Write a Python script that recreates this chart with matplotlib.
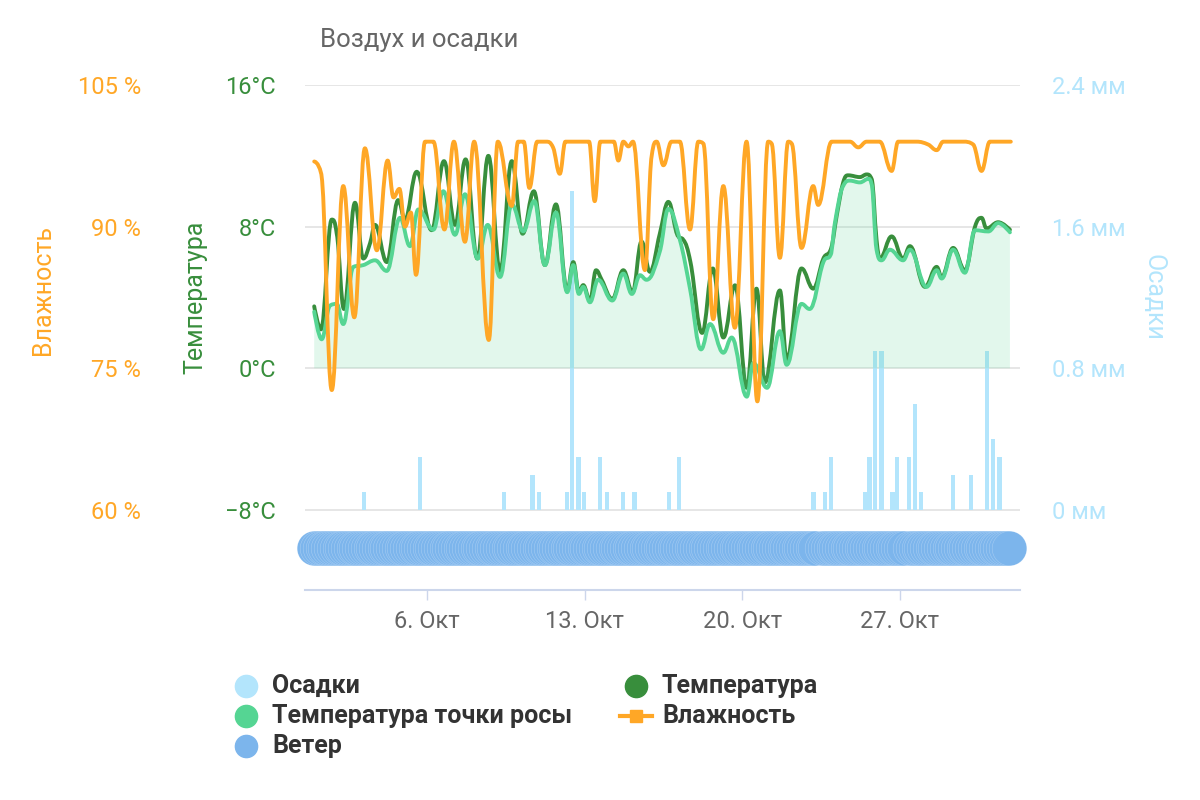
import numpy as np
import matplotlib
matplotlib.use('Agg')
from matplotlib import pyplot as plt
from matplotlib.path import Path
from matplotlib.patches import PathPatch
from matplotlib.lines import Line2D

plt.rcParams['font.family'] = ['Roboto', 'DejaVu Sans']

# time is given in days since 1 Oct 00:00
temp_days = [0.00, 0.30, 0.78, 1.00, 1.32, 1.81, 2.18, 2.48, 2.70, 3.22, 3.73, 4.03,
             4.55, 5.21, 5.76, 6.25, 6.72, 7.24, 7.73, 8.25, 8.77, 9.25, 9.75, 10.24,
             10.73, 11.23, 11.50, 11.75, 11.94, 12.24, 12.51, 12.76, 13.23, 13.72, 14.13,
             14.53, 14.90, 15.34, 15.72, 16.16, 16.38, 16.70, 17.22, 17.69, 18.16, 18.68,
             19.20, 19.63, 20.00, 20.67, 20.97, 21.63, 22.15, 22.60, 22.95, 23.19, 23.48,
             23.70, 24.22, 24.52, 24.74, 24.96, 25.11, 25.63, 26.14, 26.44, 27.11, 27.63,
             27.85, 28.36, 28.88, 29.33, 29.62, 29.84, 30.36, 30.88]
temp_vals = [3.5, 2.2, 8.4, 7.6, 3.35, 9.35, 6.2, 7.07, 8.1, 6.0, 9.5, 8.4,
             11.1, 7.8, 11.7, 8.1, 11.8, 6.2, 12.0, 5.5, 11.7, 7.6, 10.0, 5.83,
             9.26, 4.4, 6.0, 4.3, 4.7, 3.83, 5.54, 5.0, 3.92, 5.54, 4.3,
             7.16, 5.45, 7.6, 9.4, 7.45, 7.26, 6.0, 2.0, 5.64, 1.74, 4.69,
             -1.1, 4.5, -0.8, 4.4, 0.5, 5.64, 4.5, 6.2, 6.8, 8.6, 10.5,
             10.9, 10.8, 10.95, 10.7, 7.26, 6.2, 7.45, 6.2, 6.9, 4.6, 5.73,
             5.16, 6.8, 5.54, 8.0, 8.5, 7.9, 8.25, 7.83]

dew_days = [0.00, 0.33, 0.70, 1.00, 1.29, 1.74, 2.18, 2.70, 3.22, 3.81, 4.25, 4.62,
            5.29, 5.73, 6.25, 6.69, 7.26, 7.70, 8.25, 8.77, 9.28, 9.77, 10.24, 10.73,
            11.23, 11.50, 11.75, 11.94, 12.24, 12.60, 13.23, 13.72, 14.10, 14.46, 14.75,
            15.34, 15.72, 16.23, 16.68, 17.17, 17.57, 18.16, 18.53, 19.20, 19.49, 20.10,
            20.67, 20.97, 21.63, 21.99, 22.60, 22.95, 23.11, 23.48, 23.77, 24.22, 24.60,
            24.74, 24.96, 25.18, 25.55, 26.14, 26.44, 27.18, 27.63, 27.85, 28.36, 28.88,
            29.33, 29.92, 30.36, 30.88]
dew_vals = [3.2, 1.64, 3.54, 3.64, 2.5, 5.73, 5.83, 6.1, 5.5, 8.5, 6.9, 8.97,
            7.83, 10.0, 7.54, 9.83, 6.2, 8.1, 5.16, 9.26, 7.74, 9.45, 5.83, 8.8,
            4.3, 5.83, 4.2, 4.6, 3.73, 5.0, 3.83, 5.35, 4.2, 5.26, 5.0,
            6.6, 9.0, 7.26, 4.5, 1.07, 2.5, 0.88, 1.74, -1.6, 0.3, -1.1,
            2.1, 0.2, 3.64, 3.35, 6.0, 6.5, 8.2, 10.3, 10.6, 10.5, 10.7,
            10.4, 6.7, 6.1, 6.7, 6.1, 6.7, 4.6, 5.54, 5.07, 6.7, 5.4,
            7.8, 7.73, 8.2, 7.68]

hum_days = [0.00, 0.30, 0.78, 1.29, 1.78, 2.25, 2.78, 3.26, 3.52, 3.78, 4.03, 4.29,
            4.52, 4.92, 5.29, 5.78, 6.20, 6.69, 7.10, 7.75, 8.15, 8.77, 9.05, 9.30,
            9.55, 9.90, 10.30, 10.60, 10.90, 11.15, 12.20, 12.45, 12.70, 13.30, 13.50,
            13.72, 13.95, 14.15, 14.68, 14.98, 15.20, 15.50, 15.86, 16.23, 16.68, 17.05,
            17.27, 17.71, 18.16, 18.67, 19.19, 19.67, 20.15, 20.30, 20.67, 21.04, 21.19,
            21.63, 22.15, 22.37, 22.97, 23.78, 24.15, 24.52, 25.10, 25.63, 25.92, 26.74,
            27.25, 27.63, 27.92, 28.81, 29.25, 29.62, 29.99, 30.92]
hum_vals = [96.9, 95.7, 72.7, 94.3, 80.4, 98.3, 87.5, 97.0, 93.1, 94.0, 90.0, 91.5,
            84.9, 99.0, 99.0, 89.7, 99.0, 88.4, 99.0, 78.0, 99.0, 92.2, 99.0, 99.0,
            94.1, 99.0, 99.0, 98.4, 95.6, 99.0, 99.0, 92.7, 99.0, 99.0, 97.0,
            99.0, 98.5, 99.0, 85.4, 97.5, 99.0, 96.5, 99.0, 99.0, 89.7, 99.0,
            98.8, 80.2, 94.3, 79.3, 99.0, 71.5, 99.0, 98.8, 86.7, 99.0, 98.8,
            87.75, 94.3, 92.3, 99.0, 99.0, 98.4, 99.0, 99.0, 95.9, 99.0, 99.0,
            98.7, 98.1, 99.0, 99.0, 98.7, 95.9, 99.0, 99.0]

rain_days = [2.22, 4.70, 8.43, 9.68, 9.98, 11.21, 11.44, 11.72, 11.98, 12.69, 13.00,
             13.71, 14.22, 15.75, 16.19, 22.16, 22.67, 22.93, 24.44, 24.64, 24.89,
             25.17, 25.67, 25.86, 26.40, 26.66, 26.94, 28.36, 29.16, 29.87, 30.13, 30.41]
rain_vals = [0.1, 0.3, 0.1, 0.2, 0.1, 0.1, 1.8, 0.3, 0.1, 0.3, 0.1,
             0.1, 0.1, 0.1, 0.3, 0.1, 0.1, 0.3, 0.1, 0.3, 0.9,
             0.9, 0.1, 0.3, 0.3, 0.6, 0.1, 0.2, 0.2, 0.9, 0.4, 0.3]

# wind observations every 3 hours, with two short gaps
wind_periods = [(0.0, 22.35), (22.55, 26.25), (26.45, 30.9)]

x_ticks = [5, 12, 19, 26]
x_labels = ['6. Окт', '13. Окт', '20. Окт', '27. Окт']
temp_ticks = [-8, 0, 8, 16]
hum_ticks = [60, 75, 90, 105]
rain_ticks = [0, 0.8, 1.6, 2.4]

c_temp = '#388e3c'
c_dew = '#55d593'
c_hum = '#ffa726'
c_rain = '#b3e5fc'
c_wind = '#7cb5ec'


def spline(xs, ys):
    # highcharts-like spline control points
    n = len(xs)
    lc = [(xs[i], ys[i]) for i in range(n)]
    rc = [(xs[i], ys[i]) for i in range(n)]
    s = 1.5
    for i in range(1, n - 1):
        x, y = xs[i], ys[i]
        lx = (s * x + xs[i - 1]) / (s + 1)
        ly = (s * y + ys[i - 1]) / (s + 1)
        rx = (s * x + xs[i + 1]) / (s + 1)
        ry = (s * y + ys[i + 1]) / (s + 1)
        if rx != lx:
            corr = (ry - ly) * (rx - x) / (rx - lx) + y - ry
            ly += corr
            ry += corr
        if ly > ys[i - 1] and ly > y:
            ly = max(ys[i - 1], y)
            ry = 2 * y - ly
        elif ly < ys[i - 1] and ly < y:
            ly = min(ys[i - 1], y)
            ry = 2 * y - ly
        if ry > ys[i + 1] and ry > y:
            ry = max(ys[i + 1], y)
            ly = 2 * y - ry
        elif ry < ys[i + 1] and ry < y:
            ry = min(ys[i + 1], y)
            ly = 2 * y - ry
        lc[i] = (lx, ly)
        rc[i] = (rx, ry)
    verts = [(xs[0], ys[0])]
    codes = [Path.MOVETO]
    for i in range(1, n):
        verts += [rc[i - 1], lc[i], (xs[i], ys[i])]
        codes += [Path.CURVE4] * 3
    return verts, codes


W, H = 1200, 800
fig = plt.figure(figsize=(12, 8), dpi=100)
rect = [305 / W, 1 - 590 / H, 715 / W, 505 / H]
xlim = ((305 - 314.2) / 22.53, (1020 - 314.2) / 22.53)

ax_p = fig.add_axes(rect)
ax = fig.add_axes(rect)
ax_h = fig.add_axes(rect)
ax_w = fig.add_axes([305 / W, 1 - 576 / H, 715 / W, 56 / H])

for a in (ax_p, ax, ax_h, ax_w):
    a.set_xlim(*xlim)
    for sp in a.spines.values():
        sp.set_visible(False)
for a in (ax, ax_h, ax_w):
    a.patch.set_visible(False)

# px per unit: 425 px between bottom and top gridline, axis bottom 80 px lower
ax.set_ylim(-8 - 80 * 24 / 425, 16)
ax_h.set_ylim(60 - 80 * 45 / 425, 105)
ax_p.set_ylim(0 - 80 * 2.4 / 425, 2.4)
ax_w.set_ylim(-1, 1)

# precipitation columns
ax_p.bar(rain_days, rain_vals, width=0.2, color=c_rain, zorder=3)
ax_p.set_yticks(rain_ticks)
ax_p.set_yticklabels(['0 мм' if v == 0 else f'{v} мм' for v in rain_ticks])
ax_p.yaxis.tick_right()
ax_p.tick_params(axis='y', length=0, pad=23, labelsize=17, labelcolor=c_rain)
ax_p.yaxis.grid(True, color='#e6e6e6', lw=1.4)
ax_p.set_axisbelow(True)
ax_p.spines['bottom'].set_visible(True)
ax_p.spines['bottom'].set_color('#ccd6eb')
ax_p.spines['bottom'].set_linewidth(1.5)
ax_p.set_xticks(x_ticks)
ax_p.set_xticklabels(x_labels)
ax_p.tick_params(axis='x', length=7.5, width=1, color='#ccd6eb', pad=7,
                 labelsize=17, labelcolor='#666666')

# temperature and dew point
v, c = spline(temp_days, temp_vals)
ax.add_patch(PathPatch(Path(v, c), fill=False, edgecolor=c_temp, lw=2.8,
                       capstyle='round', joinstyle='round', zorder=2))
v, c = spline(dew_days, dew_vals)
fill_v = v + [(dew_days[-1], 0), (dew_days[0], 0), v[0]]
fill_c = c + [Path.LINETO, Path.LINETO, Path.CLOSEPOLY]
ax.add_patch(PathPatch(Path(fill_v, fill_c), facecolor=c_dew, alpha=0.17,
                       edgecolor='none', zorder=3))
ax.add_patch(PathPatch(Path(v, c), fill=False, edgecolor=c_dew, lw=2.8,
                       capstyle='round', joinstyle='round', zorder=4))
ax.set_yticks(temp_ticks)
ax.set_yticklabels([f'{t}°C'.replace('-', '−') for t in temp_ticks])
ax.tick_params(axis='y', length=0, pad=21, labelsize=17, labelcolor=c_temp)
ax.set_xticks([])

# humidity
v, c = spline(hum_days, hum_vals)
ax_h.add_patch(PathPatch(Path(v, c), fill=False, edgecolor=c_hum, lw=2.8,
                         capstyle='round', joinstyle='round', zorder=2))
ax_h.set_yticks(hum_ticks)
ax_h.set_yticklabels([f'{h} %' for h in hum_ticks])
ax_h.tick_params(axis='y', length=0, pad=118, labelsize=17, labelcolor=c_hum)
ax_h.set_xticks([])

# wind row
wind_days = np.concatenate([np.arange(a, b + 0.01, 0.125) for a, b in wind_periods])
ax_w.scatter(wind_days, np.zeros(len(wind_days)), s=620, c=c_wind,
             edgecolors=(1, 1, 1, 0.3), linewidths=0.4, clip_on=False)
ax_w.set_xticks([])
ax_w.set_yticks([])

# titles
fig.text(320 / W, 1 - 40 / H, 'Воздух и осадки', fontsize=18.5, color='#666666',
         ha='left', va='center')
fig.text(43 / W, 1 - 290 / H, 'Влажность', fontsize=18, color=c_hum,
         rotation=90, ha='center', va='center')
fig.text(195 / W, 1 - 297 / H, 'Температура', fontsize=18, color=c_temp,
         rotation=90, ha='center', va='center')
fig.text(1153 / W, 1 - 297 / H, 'Осадки', fontsize=18, color=c_rain,
         rotation=270, ha='center', va='center')

# legend
legend_items = [
    (246, 686, 'Осадки', c_rain, 'o'),
    (246, 716, 'Температура точки росы', c_dew, 'o'),
    (246, 746, 'Ветер', c_wind, 'o'),
    (636, 686, 'Температура', c_temp, 'o'),
    (636, 716, 'Влажность', c_hum, 's'),
]
for lx, ly, name, col, mk in legend_items:
    fx, fy = lx / W, 1 - ly / H
    if mk == 's':
        fig.add_artist(Line2D([620 / W, 652 / W], [fy, fy], color=col, lw=3,
                              transform=fig.transFigure))
        fig.add_artist(Line2D([fx], [fy], marker='s', markersize=9, color=col,
                              transform=fig.transFigure))
    else:
        fig.add_artist(Line2D([fx], [fy], marker='o', markersize=16, color=col,
                              lw=0, transform=fig.transFigure))
    fig.text((lx + 26) / W, fy, name, fontsize=18, fontweight='bold',
             color='#333333', ha='left', va='center')

fig.savefig('out.png', dpi=100)
